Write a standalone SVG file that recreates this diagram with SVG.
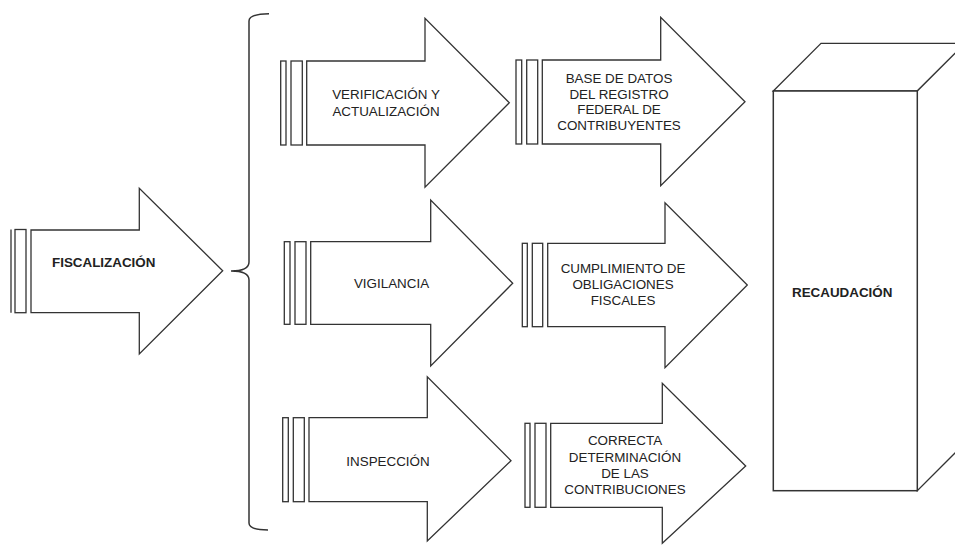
<svg xmlns="http://www.w3.org/2000/svg" width="955" height="545" viewBox="0 0 955 545">
<style>
.s{fill:#fff;stroke:#333;stroke-width:1.3;stroke-linejoin:miter}
.b{fill:none;stroke:#333;stroke-width:1.5}
.t{font-family:"Liberation Sans",Arial,sans-serif;font-size:13.4px;fill:#222;text-anchor:middle}
.tb{font-family:"Liberation Sans",Arial,sans-serif;font-size:13.4px;font-weight:bold;fill:#222}
</style>
<rect width="955" height="545" fill="#fff"/>
<g id="fiscalizacion">
<line class="s" x1="11" y1="229.5" x2="11" y2="312.7"/>
<rect class="s" x="15" y="229.5" width="11" height="83.2"/>
<path class="s" d="M31,230 L139.3,230 L139.3,188.3 L222.7,270.7 L139.3,354 L139.3,312.7 L31,312.7 Z"/>
<text class="tb" x="52" y="267">FISCALIZACIÓN</text>
</g>
<g id="connectors">
<path class="b" d="M269,13.7 Q249,14 249,21 L249,262 Q249,271 231,271 Q249,271 249,280 L249,523 Q249,530 268,530"/>
</g>
<g id="verificacion">
<rect class="s" x="280.7" y="61" width="5.3" height="84"/>
<rect class="s" x="291" y="61" width="11.3" height="84"/>
<path class="s" d="M306.7,61 L425,61 L425,18.3 L509.3,102.7 L425,187.3 L425,145 L306.7,145 Z"/>
<text class="t" x="386" y="99">VERIFICACIÓN Y</text>
<text class="t" x="386" y="116">ACTUALIZACIÓN</text>
</g>
<g id="base-datos">
<rect class="s" x="516" y="60" width="5.7" height="84"/>
<rect class="s" x="526.7" y="60" width="11" height="84"/>
<path class="s" d="M542.3,60 L660.7,60 L660.7,17.3 L745,101.7 L660.7,185.7 L660.7,144 L542.3,144 Z"/>
<text class="t" x="619" y="82.7">BASE DE DATOS</text>
<text class="t" x="619" y="98.5">DEL REGISTRO</text>
<text class="t" x="619" y="114.3">FEDERAL DE</text>
<text class="t" x="619" y="130.1">CONTRIBUYENTES</text>
</g>
<g id="vigilancia">
<rect class="s" x="284.3" y="241.7" width="5.7" height="82.6"/>
<rect class="s" x="295" y="241.7" width="11" height="82.6"/>
<path class="s" d="M310.7,241.7 L430.7,241.7 L430.7,200 L512.7,283.3 L430.7,366 L430.7,324.3 L310.7,324.3 Z"/>
<text class="t" x="391.5" y="288.3">VIGILANCIA</text>
</g>
<g id="cumplimiento">
<rect class="s" x="522.3" y="243.3" width="5" height="83.4"/>
<rect class="s" x="532.3" y="243.3" width="10.4" height="83.4"/>
<path class="s" d="M547.7,243.3 L665,243.3 L665,202.7 L747.3,285 L665,367.7 L665,326.7 L547.7,326.7 Z"/>
<text class="t" x="623" y="273.3">CUMPLIMIENTO DE</text>
<text class="t" x="623" y="289">OBLIGACIONES</text>
<text class="t" x="623" y="304.5">FISCALES</text>
</g>
<g id="inspeccion">
<rect class="s" x="282.7" y="417.7" width="5.6" height="84"/>
<rect class="s" x="293.3" y="417.7" width="11" height="84"/>
<path class="s" d="M309,417.7 L427.3,417.7 L427.3,376.7 L511,460.7 L427.3,541 L427.3,501.7 L309,501.7 Z"/>
<text class="t" x="388" y="465.7">INSPECCIÓN</text>
</g>
<g id="correcta">
<rect class="s" x="525" y="423.3" width="5" height="84"/>
<rect class="s" x="535" y="423.3" width="11" height="84"/>
<path class="s" d="M550.7,423.3 L662.3,423.3 L662.3,383.3 L745.7,466 L662.3,543.3 L662.3,507.3 L550.7,507.3 Z"/>
<text class="t" x="625" y="445">CORRECTA</text>
<text class="t" x="625" y="461.5">DETERMINACIÓN</text>
<text class="t" x="625" y="478">DE LAS</text>
<text class="t" x="625" y="494">CONTRIBUCIONES</text>
</g>
<g id="recaudacion">
<path class="s" d="M773.3,91 L821,43.3 L965,43.3 L917.3,91 Z"/>
<path class="s" d="M917.3,91 L965,43.3 L965,443 L917.3,490.7 Z"/>
<rect class="s" x="773.3" y="91" width="144" height="399.7" style="stroke-width:1.5"/>
<text class="tb" x="792" y="296.7">RECAUDACIÓN</text>
</g>
</svg>
